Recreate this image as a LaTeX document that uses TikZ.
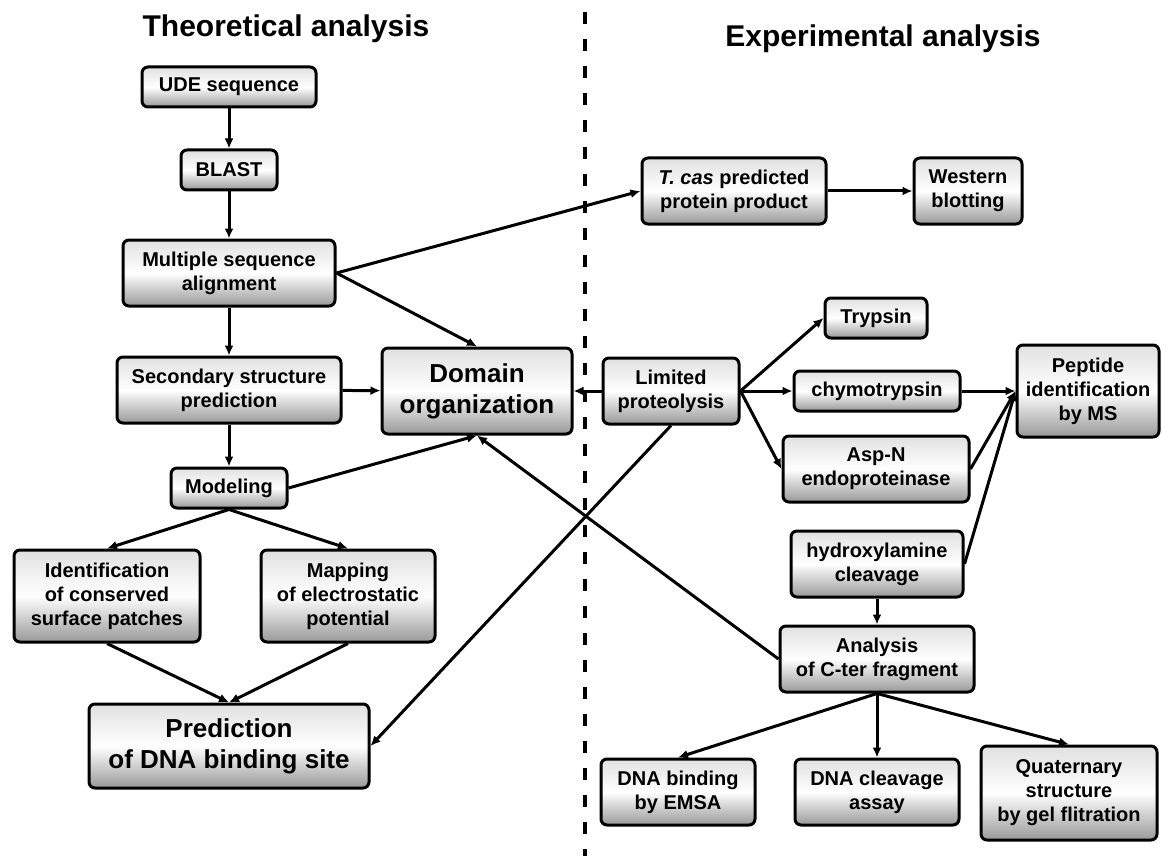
\documentclass[tikz,border=0pt]{standalone}
\usepackage{fontspec}
\setmainfont{Liberation Sans}
\usetikzlibrary{arrows.meta,positioning}

\begin{document}
\begin{tikzpicture}[x=0.5pt,y=-0.5pt,
        >={Latex[length=5pt,width=4.5pt]},
        box/.style={draw,line width=1.5pt,rounded corners=3pt,
            top color=black!12,bottom color=black!40,middle color=white,
            inner sep=0pt,align=center,font=\bfseries\fontsize{10}{12}\selectfont},
        bigbox/.style={box,font=\bfseries\fontsize{13}{15.5}\selectfont},
        heading/.style={anchor=base,font=\bfseries\fontsize{15}{18}\selectfont},
        link/.style={->,line width=1.5pt}]
        \useasboundingbox (0,0) rectangle (1168,856);
        \node[heading] (theo) at (286,37){Theoretical analysis};
        \node[heading] (expe) at (883,47){Experimental analysis};
        \coordinate (divtop) at (585,12);
        \coordinate (divbot) at (585,856);
        \draw[line width=1.7pt,dash pattern=on 6pt off 7.5pt] (divtop) -- (divbot);

        \node[box,minimum width=87pt,minimum height=20pt] (ude) at (229,87){UDE sequence};
        \node[box,minimum width=48pt,minimum height=20pt] (blast) at (229,170){BLAST};
        \node[box,minimum width=106pt,minimum height=33pt] (msa) at (229,273){Multiple sequence\\alignment};
        \node[box,minimum width=112pt,minimum height=33pt] (ssp) at (229,390){Secondary structure\\prediction};
        \node[bigbox,minimum width=95pt,minimum height=43pt] (dom) at (477,391){Domain\\organization};
        \node[box,minimum width=58pt,minimum height=20pt] (model) at (229,488){Modeling};
        \node[box,minimum width=93pt,minimum height=46pt] (ident) at (107,596){Identification\\of conserved\\surface patches};
        \node[box,minimum width=87pt,minimum height=46pt] (mapping) at (348,596){Mapping\\of electrostatic\\potential};
        \node[bigbox,minimum width=140pt,minimum height=42pt] (pred) at (229,746){Prediction\\of DNA binding site};

        \node[box,minimum width=92pt,minimum height=33pt] (tcas) at (734,191){\textit{T. cas} predicted\\protein product};
        \node[box,minimum width=54pt,minimum height=33pt] (western) at (968,191){Western\\blotting};
        \node[box,minimum width=51pt,minimum height=20pt] (trypsin) at (876,318){Trypsin};
        \node[box,minimum width=68pt,minimum height=33pt] (ltd) at (671,391){Limited\\proteolysis};
        \node[box,minimum width=83pt,minimum height=20pt] (chymo) at (877,391){chymotrypsin};
        \node[box,minimum width=71pt,minimum height=46pt] (pept) at (1088,391){Peptide\\identification\\by MS};
        \node[box,minimum width=93pt,minimum height=33pt] (aspn) at (876,469){Asp-N\\endoproteinase};
        \node[box,minimum width=86pt,minimum height=33pt] (hydrox) at (877,564){hydroxylamine\\cleavage};
        \node[box,minimum width=97pt,minimum height=33pt] (cter) at (877,659){Analysis\\of C-ter fragment};
        \node[box,minimum width=77pt,minimum height=33pt] (emsa) at (678,792){DNA binding\\by EMSA};
        \node[box,minimum width=82pt,minimum height=33pt] (cleav) at (877,792){DNA cleavage\\assay};
        \node[box,minimum width=88pt,minimum height=47pt] (quat) at (1069,793){Quaternary\\structure\\by gel flitration};

        \draw[link] (ude) -- (blast);
        \draw[link] (blast) -- (msa);
        \draw[link] (msa) -- (ssp);
        \draw[link] (msa.east) -- (dom.north);
        \draw[link] (msa.east) -- (tcas.west);
        \draw[link] (ssp) -- (dom);
        \draw[link] (ssp) -- (model);
        \draw[link] (model.east) -- (dom.south);
        \draw[link] (model.south) -- (ident.north);
        \draw[link] (model.south) -- (mapping.north);
        \draw[link] (ident.south) -- (pred.north);
        \draw[link] (mapping.south) -- (pred.north);
        \draw[link] (tcas) -- (western);
        \draw[link] (ltd) -- (dom);
        \draw[link] (ltd.east) -- (trypsin.west);
        \draw[link] (ltd.east) -- (chymo.west);
        \draw[link] (ltd.east) -- (aspn.west);
        \draw[link] (ltd.south) -- (pred.east);
        \draw[link] (chymo) -- (pept.west);
        \draw[link] (aspn.east) -- (pept.west);
        \draw[link] (hydrox.east) -- (pept.west);
        \draw[link] (hydrox) -- (cter);
        \draw[link] (cter.west) -- (dom.south);
        \draw[link] (cter.south) -- (emsa.north);
        \draw[link] (cter.south) -- (cleav.north);
        \draw[link] (cter.south) -- (quat.north);
    \end{tikzpicture}
\end{document}
